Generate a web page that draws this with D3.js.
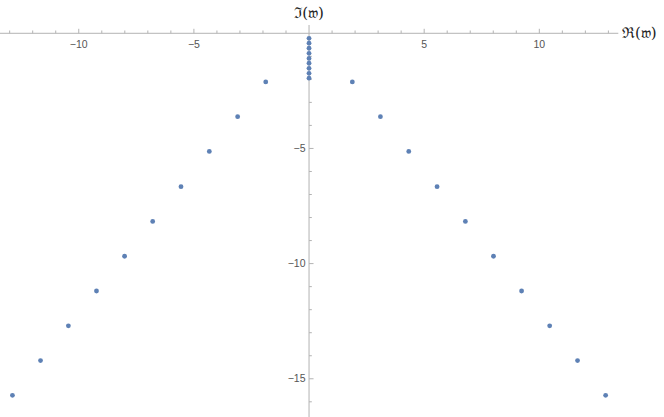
<!DOCTYPE html>
<html><head><meta charset="utf-8">
<script src="https://cdn.jsdelivr.net/npm/d3@7"></script>
<style>body{margin:0;background:#fff}svg{display:block}</style>
</head><body><svg id="c" width="664" height="417"></svg>
<script>
const axisReal = [0, 0, 0, 0, 0, 0, 0, 0, 0];
const axisImag = [-0.22, -0.43, -0.65, -0.87, -1.09, -1.30, -1.52, -1.74, -1.95];
const branchReal = [1.88, 3.10, 4.33, 5.56, 6.79, 8.01, 9.23, 10.45, 11.66, 12.88];
const branchImag = [-2.11, -3.62, -5.13, -6.66, -8.17, -9.68, -11.19, -12.70, -14.21, -15.72];
const xTicks = [-10, -5, 5, 10];
const yTicks = [-5, -10, -15];
const xLabel = "\u211C(\uD835\uDD34)";
const yLabel = "\u2111(\uD835\uDD34)";

const svg = d3.select("#c");
const x = d3.scaleLinear().domain([-13.42, 13.43]).range([0, 618.3]);
const y = d3.scaleLinear().domain([0.36, -16.66]).range([25, 417]);

const pts = [];
axisReal.forEach((r, i) => pts.push([r, axisImag[i]]));
branchReal.forEach((r, i) => { pts.push([-r, branchImag[i]]); pts.push([r, branchImag[i]]); });

const axColor = "#b3b3b3";
const txtColor = "#555";
// x axis
const xAx = svg.append("g").attr("transform", `translate(0,${y(0)})`);
xAx.append("line").attr("x1", x.range()[0]).attr("x2", x.range()[1]).attr("stroke", axColor).attr("stroke-width", 1);
d3.range(-13, 14).forEach(v => {
  if (v === 0) return;
  const major = v % 5 === 0;
  xAx.append("line").attr("x1", x(v)).attr("x2", x(v)).attr("y1", 0).attr("y2", major ? -4.5 : -2.8)
    .attr("stroke", axColor).attr("stroke-width", 1);
});
xTicks.forEach(v => {
  xAx.append("text").attr("x", x(v)).attr("y", 14.5).attr("text-anchor", "middle")
    .attr("font-family", "Liberation Sans, Arial, sans-serif").attr("font-size", 10.5).attr("fill", txtColor)
    .text(v < 0 ? "\u2212" + Math.abs(v) : v);
});
// y axis
const yAx = svg.append("g").attr("transform", `translate(${x(0)},0)`);
yAx.append("line").attr("y1", y.range()[0]).attr("y2", y.range()[1]).attr("stroke", axColor).attr("stroke-width", 1);
d3.range(-16, 1).forEach(v => {
  if (v === 0) return;
  const major = v % 5 === 0;
  yAx.append("line").attr("x1", 0).attr("x2", major ? 4.5 : 2.8).attr("y1", y(v)).attr("y2", y(v))
    .attr("stroke", axColor).attr("stroke-width", 1);
});
yTicks.forEach(v => {
  yAx.append("text").attr("x", -3.5).attr("y", y(v)).attr("dy", "0.35em").attr("text-anchor", "end")
    .attr("font-family", "Liberation Sans, Arial, sans-serif").attr("font-size", 10.5).attr("fill", txtColor)
    .text("\u2212" + Math.abs(v));
});
// axis labels
svg.append("text").attr("x", 622).attr("y", y(0) + 5).attr("font-family", "DejaVu Serif, serif")
  .attr("font-size", 15).attr("fill", "#222").text(xLabel);
svg.append("text").attr("x", x(0)).attr("y", 18).attr("text-anchor", "middle").attr("font-family", "DejaVu Serif, serif")
  .attr("font-size", 15).attr("fill", "#222").text(yLabel);

svg.append("g").selectAll("circle").data(pts).join("circle")
  .attr("cx", d => x(d[0])).attr("cy", d => y(d[1])).attr("r", 2.4).attr("fill", "#5E81B5");
</script></body></html>
